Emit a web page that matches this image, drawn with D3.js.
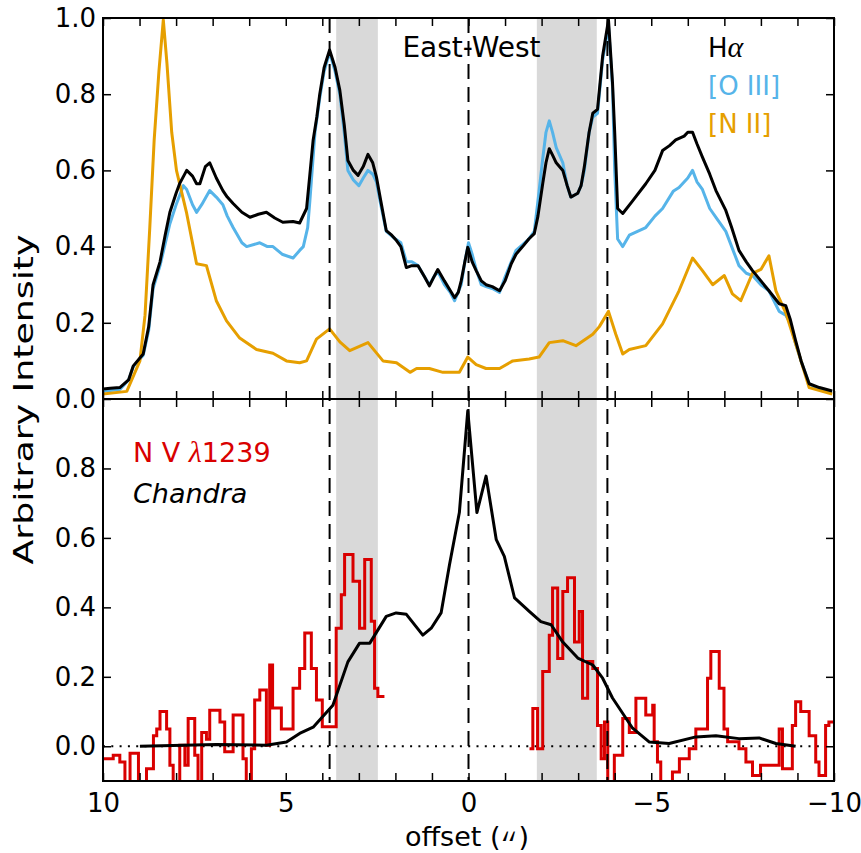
<!DOCTYPE html>
<html>
<head>
<meta charset="utf-8">
<script src="https://cdn.jsdelivr.net/npm/d3@7/dist/d3.min.js"></script>
<style>
  body { margin: 0; background: #fff; }
  text { font-family: "DejaVu Sans", sans-serif; }
</style>
</head>
<body>
<svg class="chart" width="861" height="853"></svg>
<script>
// [offset (arcsec), intensity]

// top panel - optical lines
const halpha = [[10.0,0.026],[9.8,0.028],[9.54,0.03],[9.3,0.05],[9.17,0.087],[8.9,0.118],[8.75,0.19],[8.63,0.30],[8.44,0.36],[8.3,0.43],[8.17,0.49],[8.0,0.54],[7.9,0.566],[7.71,0.60],[7.55,0.585],[7.44,0.565],[7.35,0.565],[7.2,0.61],[7.08,0.62],[6.9,0.58],[6.72,0.547],[6.6,0.53],[6.44,0.513],[6.2,0.49],[5.98,0.477],[5.75,0.485],[5.53,0.49],[5.3,0.475],[5.08,0.464],[4.8,0.466],[4.62,0.462],[4.43,0.50],[4.35,0.58],[4.25,0.68],[4.15,0.74],[4.07,0.80],[3.95,0.87],[3.8,0.916],[3.65,0.87],[3.52,0.81],[3.40,0.72],[3.30,0.626],[3.15,0.60],[3.02,0.587],[2.88,0.61],[2.75,0.642],[2.62,0.62],[2.52,0.583],[2.4,0.52],[2.25,0.442],[2.1,0.43],[1.97,0.416],[1.85,0.40],[1.70,0.345],[1.55,0.35],[1.38,0.35],[1.2,0.32],[1.07,0.297],[0.95,0.32],[0.84,0.34],[0.66,0.31],[0.5,0.285],[0.38,0.266],[0.28,0.28],[0.20,0.31],[0.1,0.36],[0.02,0.398],[-0.1,0.36],[-0.21,0.337],[-0.35,0.31],[-0.48,0.30],[-0.65,0.295],[-0.85,0.284],[-1.0,0.31],[-1.17,0.355],[-1.3,0.38],[-1.48,0.40],[-1.65,0.42],[-1.80,0.434],[-1.9,0.48],[-2.03,0.565],[-2.12,0.62],[-2.21,0.657],[-2.3,0.64],[-2.40,0.62],[-2.58,0.60],[-2.7,0.56],[-2.80,0.53],[-2.99,0.54],[-3.08,0.56],[-3.17,0.61],[-3.3,0.70],[-3.40,0.75],[-3.53,0.76],[-3.67,0.90],[-3.83,0.995],[-3.94,0.83],[-4.0,0.70],[-4.08,0.50],[-4.22,0.487],[-4.49,0.52],[-4.85,0.565],[-5.1,0.60],[-5.31,0.652],[-5.5,0.665],[-5.67,0.68],[-5.9,0.69],[-6.0,0.70],[-6.13,0.70],[-6.25,0.67],[-6.40,0.635],[-6.6,0.59],[-6.77,0.547],[-7.04,0.495],[-7.2,0.45],[-7.40,0.39],[-7.6,0.36],[-7.77,0.337],[-8.0,0.31],[-8.22,0.284],[-8.5,0.25],[-8.68,0.245],[-8.8,0.21],[-8.95,0.153],[-9.1,0.10],[-9.32,0.04],[-9.6,0.03],[-9.95,0.021]];

const oiii = [[10.0,0.02],[9.54,0.025],[9.3,0.05],[9.17,0.085],[8.9,0.115],[8.75,0.18],[8.63,0.29],[8.44,0.35],[8.17,0.46],[8.0,0.51],[7.8,0.56],[7.71,0.55],[7.55,0.51],[7.44,0.49],[7.3,0.51],[7.08,0.547],[6.9,0.53],[6.72,0.51],[6.6,0.48],[6.44,0.45],[6.2,0.41],[6.07,0.40],[5.71,0.41],[5.5,0.40],[5.35,0.40],[5.1,0.38],[4.8,0.37],[4.62,0.39],[4.52,0.40],[4.40,0.45],[4.34,0.52],[4.2,0.70],[4.07,0.79],[3.95,0.86],[3.8,0.91],[3.65,0.86],[3.52,0.80],[3.40,0.70],[3.30,0.60],[3.15,0.575],[3.0,0.56],[2.88,0.58],[2.75,0.60],[2.62,0.59],[2.52,0.57],[2.4,0.51],[2.25,0.44],[2.0,0.42],[1.85,0.41],[1.70,0.36],[1.55,0.36],[1.38,0.35],[1.2,0.32],[1.07,0.30],[0.95,0.32],[0.84,0.335],[0.66,0.30],[0.5,0.28],[0.38,0.258],[0.2,0.30],[0.1,0.36],[0.0,0.41],[-0.1,0.38],[-0.21,0.34],[-0.35,0.30],[-0.48,0.295],[-0.65,0.29],[-0.85,0.28],[-1.0,0.32],[-1.17,0.36],[-1.3,0.39],[-1.48,0.405],[-1.65,0.42],[-1.80,0.44],[-1.9,0.52],[-2.03,0.63],[-2.12,0.70],[-2.21,0.73],[-2.3,0.70],[-2.40,0.66],[-2.58,0.62],[-2.7,0.56],[-2.80,0.53],[-2.99,0.54],[-3.08,0.56],[-3.17,0.60],[-3.3,0.70],[-3.40,0.74],[-3.53,0.75],[-3.67,0.89],[-3.83,0.98],[-3.94,0.82],[-4.0,0.60],[-4.08,0.42],[-4.22,0.40],[-4.4,0.43],[-4.85,0.45],[-5.1,0.48],[-5.31,0.50],[-5.6,0.545],[-5.76,0.555],[-6.0,0.58],[-6.13,0.60],[-6.25,0.57],[-6.40,0.55],[-6.6,0.50],[-6.77,0.477],[-7.04,0.44],[-7.2,0.40],[-7.40,0.35],[-7.6,0.33],[-7.77,0.324],[-8.0,0.30],[-8.22,0.284],[-8.5,0.23],[-8.68,0.22],[-8.8,0.20],[-8.95,0.145],[-9.1,0.10],[-9.32,0.04],[-9.6,0.025],[-9.95,0.018]];

const nii = [[10.0,0.013],[9.35,0.02],[8.99,0.10],[8.85,0.22],[8.72,0.45],[8.6,0.68],[8.47,0.86],[8.35,0.995],[8.25,0.88],[8.12,0.70],[7.99,0.60],[7.71,0.487],[7.44,0.355],[7.17,0.35],[6.9,0.258],[6.62,0.205],[6.26,0.16],[5.8,0.13],[5.35,0.12],[4.98,0.10],[4.62,0.095],[4.43,0.10],[4.16,0.157],[3.8,0.184],[3.52,0.15],[3.25,0.127],[2.75,0.148],[2.34,0.10],[1.97,0.095],[1.6,0.07],[1.42,0.08],[1.07,0.08],[0.7,0.07],[0.25,0.07],[0.02,0.11],[-0.21,0.09],[-0.48,0.08],[-0.85,0.08],[-1.21,0.10],[-1.66,0.105],[-1.93,0.11],[-2.21,0.148],[-2.58,0.153],[-2.94,0.14],[-3.40,0.17],[-3.58,0.19],[-3.83,0.23],[-4.03,0.17],[-4.22,0.118],[-4.4,0.13],[-4.85,0.14],[-5.31,0.197],[-5.76,0.284],[-6.13,0.37],[-6.40,0.337],[-6.68,0.30],[-7.0,0.324],[-7.22,0.276],[-7.45,0.258],[-7.77,0.33],[-8.0,0.34],[-8.22,0.376],[-8.41,0.284],[-8.68,0.226],[-9.04,0.118],[-9.32,0.03],[-9.95,0.013]];

// bottom panel - UV and X-ray
const chandra = [[8.99,0.0],[6.9,0.005],[5.53,0.003],[4.98,0.012],[4.62,0.037],[4.25,0.055],[3.71,0.118],[3.30,0.243],[2.98,0.297],[2.70,0.297],[2.25,0.374],[1.98,0.384],[1.70,0.38],[1.25,0.32],[1.02,0.34],[0.75,0.384],[0.52,0.523],[0.25,0.673],[0.02,0.966],[-0.23,0.673],[-0.48,0.778],[-0.76,0.595],[-0.98,0.547],[-1.26,0.427],[-1.67,0.388],[-1.98,0.359],[-2.26,0.35],[-2.58,0.30],[-2.99,0.254],[-3.40,0.234],[-3.67,0.196],[-3.94,0.139],[-4.49,0.052],[-4.95,0.012],[-5.49,0.008],[-6.22,0.027],[-6.77,0.03],[-7.40,0.022],[-7.95,0.024],[-8.41,0.008],[-8.95,0.0]];

const nvEast = [[10.0,-0.036],[9.72,-0.026],[9.54,-0.045],[9.40,-0.15],[9.26,-0.02],[9.03,-0.15],[8.81,-0.065],[8.62,0.03],[8.53,0.05],[8.44,0.10],[8.26,0.05],[8.17,-0.055],[8.08,-0.15],[7.90,0.003],[7.76,-0.055],[7.67,0.08],[7.49,-0.026],[7.40,-0.15],[7.30,0.04],[7.17,0.02],[7.08,0.104],[6.80,0.07],[6.67,-0.016],[6.44,0.09],[6.17,-0.036],[6.08,-0.15],[5.94,-0.007],[5.85,0.133],[5.71,0.162],[5.53,0.003],[5.44,0.234],[5.36,0.11],[5.12,0.05],[4.80,0.167],[4.62,0.224],[4.48,0.326],[4.30,0.224],[4.16,0.133],[4.00,0.056],[3.62,0.34],[3.48,0.436],[3.39,0.552],[3.16,0.475],[2.98,0.34],[2.84,0.538],[2.66,0.36],[2.57,0.167],[2.48,0.143],[2.30,0.143]];

const nvWest = [[-1.67,-0.007],[-1.76,0.109],[-1.89,-0.007],[-2.03,0.215],[-2.21,0.32],[-2.30,0.456],[-2.44,0.253],[-2.58,0.446],[-2.71,0.485],[-2.90,0.30],[-3.03,0.388],[-3.12,0.138],[-3.26,0.244],[-3.40,0.224],[-3.53,0.06],[-3.63,-0.036],[-3.72,0.07],[-3.81,-0.15],[-3.99,-0.026],[-4.22,0.08],[-4.40,0.04],[-4.58,0.138],[-4.85,0.09],[-5.04,0.118],[-5.08,0.013],[-5.17,-0.045],[-5.26,-0.15],[-5.58,-0.074],[-5.77,-0.036],[-6.04,-0.007],[-6.22,0.05],[-6.54,0.196],[-6.63,0.273],[-6.86,0.167],[-6.99,0.05],[-7.09,0.013],[-7.40,-0.007],[-7.59,-0.045],[-7.77,-0.084],[-7.99,-0.055],[-8.50,0.05],[-8.59,-0.065],[-8.86,0.06],[-8.95,0.128],[-9.09,0.10],[-9.32,0.03],[-9.50,-0.045],[-9.59,-0.084],[-9.77,0.06],[-9.86,0.07],[-10.0,0.07]];

// shaded regions and marker lines
const bands = [[3.62, 2.48], [-1.87, -3.51]];
const markers = [3.8, 0, -3.8];

const xTickLabels = [10, 5, 0, -5, -10];
const topYTicks = [0, 0.2, 0.4, 0.6, 0.8, 1.0];
const bottomYTicks = [0, 0.2, 0.4, 0.6, 0.8];

const legendNames = ['H', '[O III]', '[N II]'];
const legendColors = ['#000000', '#56B4E9', '#E69F00'];


/***** Layout *****/
let left = 103, right = 834;
let top1 = 18, mid = 399, bot2 = 781;
let svg = d3.select('svg.chart');

let x = d3.scaleLinear().domain([10, -10]).range([left, right]);
let yTop = d3.scaleLinear().domain([0, 1]).range([mid, top1]);
let yBot = d3.scaleLinear().domain([-0.1, 1.0]).range([bot2, mid]);

let defs = svg.append('defs');
defs.append('clipPath').attr('id', 'clipTop')
    .append('rect').attr('x', left).attr('y', top1).attr('width', right - left).attr('height', mid - top1);
defs.append('clipPath').attr('id', 'clipBot')
    .append('rect').attr('x', left).attr('y', mid).attr('width', right - left).attr('height', bot2 - mid);

/***** Shaded bands (both panels) *****/
svg.append('g').selectAll('rect')
    .data(bands)
    .join('rect')
    .attr('x', d => x(d[0]))
    .attr('width', d => x(d[1]) - x(d[0]))
    .attr('y', top1)
    .attr('height', bot2 - top1)
    .attr('fill', '#d9d9d9');

/***** Top panel lines *****/
let lineTop = d3.line().x(d => x(d[0])).y(d => yTop(d[1]));
let gTop = svg.append('g').attr('clip-path', 'url(#clipTop)');
[[oiii, '#56B4E9'], [nii, '#E69F00'], [halpha, '#000000']].forEach(s => {
    gTop.append('path')
        .attr('d', lineTop(s[0]))
        .attr('fill', 'none')
        .attr('stroke', s[1])
        .attr('stroke-width', 3)
        .attr('stroke-linejoin', 'round');
});

/***** Bottom panel lines *****/
let gBot = svg.append('g').attr('clip-path', 'url(#clipBot)');

// zero level
gBot.append('line')
    .attr('x1', left).attr('x2', right)
    .attr('y1', yBot(0)).attr('y2', yBot(0))
    .attr('stroke', '#000')
    .attr('stroke-width', 2)
    .attr('stroke-dasharray', '2,6.3');

let stepLine = d3.line().x(d => x(d[0])).y(d => yBot(d[1])).curve(d3.curveStepAfter);
[nvEast, nvWest].forEach(seg => {
    gBot.append('path')
        .attr('d', stepLine(seg))
        .attr('fill', 'none')
        .attr('stroke', '#d90000')
        .attr('stroke-width', 3);
});

let lineBot = d3.line().x(d => x(d[0])).y(d => yBot(d[1]));
gBot.append('path')
    .attr('d', lineBot(chandra))
    .attr('fill', 'none')
    .attr('stroke', '#000')
    .attr('stroke-width', 3)
    .attr('stroke-linejoin', 'round');

/***** Dashed marker lines *****/
svg.append('g').selectAll('line')
    .data(markers)
    .join('line')
    .attr('x1', d => x(d)).attr('x2', d => x(d))
    .attr('y1', top1).attr('y2', bot2)
    .attr('stroke', '#000')
    .attr('stroke-width', 2)
    .attr('stroke-dasharray', '15,8');

/***** Axes *****/
let fmt = d3.format('.1f');
let minorX = d3.range(-10, 11, 1);

function styleAxis(g) {
    g.select('.domain').remove();
    g.selectAll('.tick line').attr('stroke', '#000').attr('stroke-width', 1.5);
    g.selectAll('.tick text').attr('font-size', 26).attr('fill', '#000')
        .attr('font-family', '"DejaVu Sans", sans-serif');
}

// x ticks on both panels, top and bottom edges
[top1, mid].forEach(yy => {
    svg.append('g').attr('transform', `translate(0,${yy})`)
        .call(d3.axisTop(x).tickValues(minorX).tickSize(-8).tickFormat(''))
        .call(styleAxis);
});
svg.append('g').attr('transform', `translate(0,${mid})`)
    .call(d3.axisBottom(x).tickValues(minorX).tickSize(-8).tickFormat(''))
    .call(styleAxis);
svg.append('g').attr('transform', `translate(0,${bot2})`)
    .call(d3.axisBottom(x).tickValues(minorX).tickSize(-8).tickPadding(13)
        .tickFormat(d => xTickLabels.includes(d) ? d3.format('d')(d) : ''))
    .call(styleAxis);

// y ticks
svg.append('g').attr('transform', `translate(${left},0)`)
    .call(d3.axisLeft(yTop).tickValues(topYTicks).tickSize(-8).tickPadding(7).tickFormat(fmt))
    .call(styleAxis);
svg.append('g').attr('transform', `translate(${right},0)`)
    .call(d3.axisRight(yTop).tickValues(topYTicks).tickSize(-8).tickFormat(''))
    .call(styleAxis);
svg.append('g').attr('transform', `translate(${left},0)`)
    .call(d3.axisLeft(yBot).tickValues(bottomYTicks).tickSize(-8).tickPadding(7).tickFormat(fmt))
    .call(styleAxis);
svg.append('g').attr('transform', `translate(${right},0)`)
    .call(d3.axisRight(yBot).tickValues(bottomYTicks).tickSize(-8).tickFormat(''))
    .call(styleAxis);

// frames
[[top1, mid], [mid, bot2]].forEach(p => {
    svg.append('rect')
        .attr('x', left).attr('y', p[0])
        .attr('width', right - left).attr('height', p[1] - p[0])
        .attr('fill', 'none')
        .attr('stroke', '#000')
        .attr('stroke-width', 2);
});

/***** Labels *****/
// x label: "offset (" + tall primes + ")"
let xl = svg.append('g');
let xl1 = xl.append('text').attr('x', 405).attr('y', 846).attr('font-size', 27).text('offset (');
let xlEnd = 405 + xl1.node().getComputedTextLength();
// primes turned half a turn and stretched so they sit low like the mathtext glyphs
// (flipped so the text box stays inside the picture)
xl.append('text')
    .attr('font-size', 27)
    .attr('transform', `translate(${xlEnd + 15},801.5) scale(-1.1,-2.0)`)
    .text('′′');
xl.append('text').attr('x', xlEnd + 18).attr('y', 846).attr('font-size', 27).text(')');

svg.append('text')
    .attr('transform', `translate(33,${(top1 + bot2) / 2}) rotate(-90)`)
    .attr('text-anchor', 'middle')
    .attr('font-size', 27)
    .attr('textLength', 330)
    .attr('lengthAdjust', 'spacingAndGlyphs')
    .text('Arbitrary Intensity');

svg.append('text')
    .attr('x', x(0) + 3).attr('y', 57)
    .attr('text-anchor', 'middle')
    .attr('font-size', 28)
    .text('East-West');

// legend
let leg = svg.append('g');
legendNames.forEach((name, i) => {
    let t = leg.append('text')
        .attr('x', 708).attr('y', 57 + i * 38)
        .attr('font-size', 26)
        .attr('fill', legendColors[i])
        .text(name);
    if (i === 0) {
        t.append('tspan')
            .attr('font-family', '"Liberation Serif", serif')
            .attr('font-style', 'italic')
            .attr('font-size', 30)
            .text('α');
    }
});

let nv = svg.append('text')
    .attr('x', 133).attr('y', 462)
    .attr('font-size', 27)
    .attr('fill', '#d90000')
    .text('N V ');
nv.append('tspan').attr('font-family', '"Liberation Serif", serif').attr('font-style', 'italic').attr('font-size', 30).text('λ');
nv.append('tspan').text('1239');

svg.append('text')
    .attr('x', 133).attr('y', 503)
    .attr('font-size', 27)
    .attr('font-family', '"Liberation Serif", serif')
    .attr('font-style', 'italic')
    .text('Chandra');
</script>
</body>
</html>
